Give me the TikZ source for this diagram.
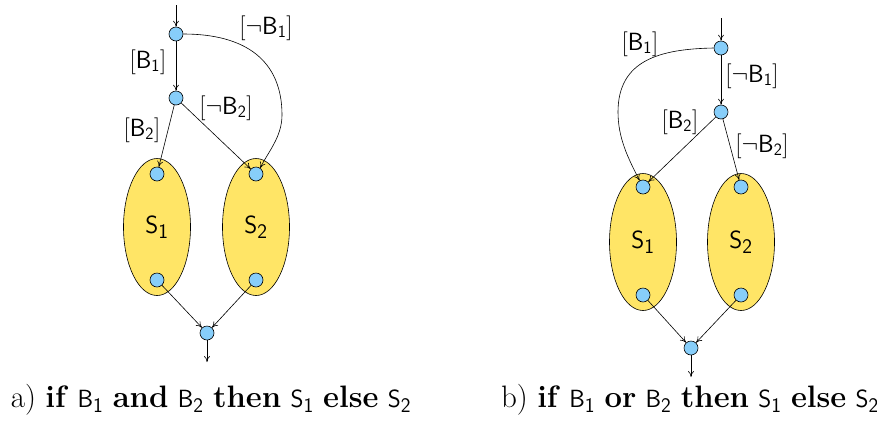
\documentclass[tikz,border=0pt]{standalone}
\usetikzlibrary{arrows.meta,shapes.geometric}
\definecolor{dotblue}{RGB}{135,206,250}
\definecolor{blobyellow}{RGB}{255,229,102}
\begin{document}
\begin{tikzpicture}[x=1pt,y=-1pt,
  dot/.style={circle,draw=black,line width=0.6pt,fill=dotblue,minimum size=14pt,inner sep=0pt},
  blob/.style={ellipse,draw=black,line width=0.6pt,fill=blobyellow,minimum width=67pt,minimum height=137pt,inner sep=0pt},
  arr/.style={-{To[length=6pt,width=6pt]},line width=0.6pt},
  lab/.style={font=\fontsize{23}{25}\selectfont,inner sep=0pt},
  slab/.style={font=\fontsize{31}{33}\selectfont},
  captxt/.style={font=\fontsize{31}{33}\selectfont,inner sep=0pt}]
\useasboundingbox (0,0) rectangle (877,421);
% ---------- (a) ----------
\node[blob] (aS1) at (157,227) {};
\node[blob] (aS2) at (256,227) {};
\node[slab] (aS1l) at (157,227) {$\mathsf{S_1}$};
\node[slab] (aS2l) at (256,227) {$\mathsf{S_2}$};
\coordinate (a0) at (176,5);
\node[dot] (a1) at (176,34) {};
\node[dot] (a2) at (176,98) {};
\node[dot] (a1t) at (157,174) {};
\node[dot] (a1b) at (157,280) {};
\node[dot] (a2t) at (256,174) {};
\node[dot] (a2b) at (256,280) {};
\node[dot] (am) at (207,333) {};
\coordinate (ae) at (207,362);
\draw[arr] (a0) -- (a1);
\draw[arr] (a1) -- (a2);
\draw[arr] (a1.east) .. controls (245,34) and (282,60) .. (282,115) .. controls (282,137) and (268,152) .. (a2t.55);
\draw[arr] (a2) -- (a1t);
\draw[arr] (a2) -- (a2t);
\draw[arr] (a1b) -- (am);
\draw[arr] (a2b) -- (am);
\draw[arr] (am) -- (ae);
\node[lab] (la1) at (148,62) {$[\mathsf{B_1}]$};
\node[lab] (la2) at (266,28) {$[\neg\mathsf{B_1}]$};
\node[lab] (la3) at (142,130) {$[\mathsf{B_2}]$};
\node[lab] (la4) at (226,108) {$[\neg\mathsf{B_2}]$};
% ---------- (b) ----------
\node[blob] (bS1) at (643,242) {};
\node[blob] (bS2) at (741,242) {};
\node[slab] (bS1l) at (643,242) {$\mathsf{S_1}$};
\node[slab] (bS2l) at (741,242) {$\mathsf{S_2}$};
\coordinate (b0) at (721,18);
\node[dot] (b1) at (721,48) {};
\node[dot] (b2) at (721,112) {};
\node[dot] (b1t) at (643,187) {};
\node[dot] (b1b) at (643,295) {};
\node[dot] (b2t) at (741,187) {};
\node[dot] (b2b) at (741,295) {};
\node[dot] (bm) at (691,348) {};
\coordinate (be) at (691,377);
\draw[arr] (b0) -- (b1);
\draw[arr] (b1) -- (b2);
\draw[arr] (b1.west) .. controls (660,49) and (618,60) .. (618,112) .. controls (618,138) and (628,158) .. (b1t.118);
\draw[arr] (b2) -- (b1t);
\draw[arr] (b2) -- (b2t);
\draw[arr] (b1b) -- (bm);
\draw[arr] (b2b) -- (bm);
\draw[arr] (bm) -- (be);
\node[lab] (lb1) at (640,44) {$[\mathsf{B_1}]$};
\node[lab] (lb2) at (752,76) {$[\neg\mathsf{B_1}]$};
\node[lab] (lb3) at (680,122) {$[\mathsf{B_2}]$};
\node[lab] (lb4) at (762,146) {$[\neg\mathsf{B_2}]$};
% ---------- captions ----------
\node[captxt] (capa) at (211,400) {a) \textbf{if} $\mathsf{B_1}$ \textbf{and} $\mathsf{B_2}$ \textbf{then} $\mathsf{S_1}$ \textbf{else} $\mathsf{S_2}$};
\node[captxt] (capb) at (690,400) {b) \textbf{if} $\mathsf{B_1}$ \textbf{or} $\mathsf{B_2}$ \textbf{then} $\mathsf{S_1}$ \textbf{else} $\mathsf{S_2}$};
\end{tikzpicture}
\end{document}
